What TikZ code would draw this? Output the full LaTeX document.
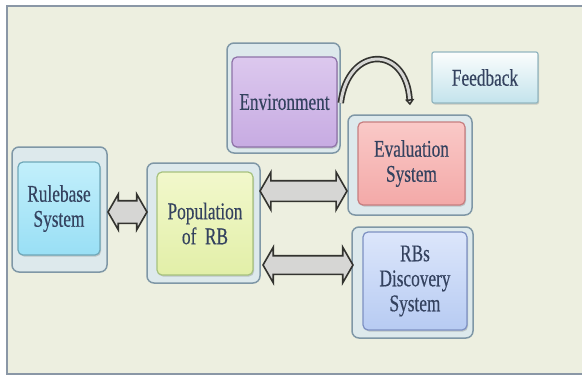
\documentclass[tikz,border=0pt]{standalone}
\usepackage{fontspec}
\newfontfamily\boxfont[FakeStretch=0.72, FakeBold=0.4]{Liberation Serif}
\usetikzlibrary{shapes.arrows,shadows,calc,arrows.meta}

\definecolor{pagebg}{HTML}{EDEFE0}
\definecolor{framegray}{HTML}{8A97A6}
\definecolor{outerfill}{HTML}{DDE9EC}
\definecolor{outerline}{HTML}{7F97A6}
\definecolor{textblue}{HTML}{34425F}
\definecolor{rbtop}{HTML}{C2EFFB}
\definecolor{rbbot}{HTML}{99DFF5}
\definecolor{rbline}{HTML}{6FA7B8}
\definecolor{poptop}{HTML}{F2F8CC}
\definecolor{popbot}{HTML}{E2EFA8}
\definecolor{popline}{HTML}{A7C27E}
\definecolor{envtop}{HTML}{DCC8EE}
\definecolor{envbot}{HTML}{C7ABE2}
\definecolor{envline}{HTML}{8E72A8}
\definecolor{evtop}{HTML}{FAC9C7}
\definecolor{evbot}{HTML}{F3A9A8}
\definecolor{evline}{HTML}{C77E80}
\definecolor{dstop}{HTML}{DCE6FB}
\definecolor{dsbot}{HTML}{B7CBF2}
\definecolor{dsline}{HTML}{7D90C2}
\definecolor{fbtop}{HTML}{FBFDFD}
\definecolor{fbbot}{HTML}{C3E3EC}
\definecolor{fbline}{HTML}{93B6C0}
\definecolor{arrowfill}{HTML}{D6D6D4}
\definecolor{arrowline}{HTML}{33332F}

\begin{document}
\begin{tikzpicture}[x=1pt, y=-1pt,
    boxtext/.style={font=\boxfont\fontsize{24}{25}\selectfont, text=textblue, align=center},
    outerbox/.style={draw=outerline, fill=outerfill, line width=1.5pt, rounded corners=7pt},
    innerbox/.style={boxtext, draw=#1line, top color=#1top, bottom color=#1bot,
        line width=1.2pt, rounded corners=5pt, inner sep=0pt,
        drop shadow={shadow xshift=1pt, shadow yshift=-1.5pt, opacity=0.35}},
    blockarrow/.style={double arrow, draw=arrowline, fill=arrowfill, line width=1.6pt,
        inner xsep=0pt, double arrow tip angle=120},
    curvearrow/.style={draw=arrowline, line width=1.7pt, double=arrowfill, double distance=3pt,
        -{Triangle[length=6pt, width=9pt, open, fill=arrowfill]}}]
    \useasboundingbox (0,0) rectangle (582,378);
    \fill[white] (0,0) rectangle (582,378);
    
    % Background panel
    \fill[pagebg] (7,6) rectangle (590,374);
    \draw[framegray, line width=2pt] (590,6) -- (7,6) -- (7,374) -- (590,374);
    
    % Outer frames
    \node[outerbox, minimum width=95pt, minimum height=125pt] (rbOut) at (59.5,209.5) {};
    \node[outerbox, minimum width=113pt, minimum height=120pt] (popOut) at (203.5,223) {};
    \node[outerbox, minimum width=113pt, minimum height=110pt] (envOut) at (283.5,98) {};
    \node[outerbox, minimum width=124pt, minimum height=100pt] (evalOut) at (410,165) {};
    \node[outerbox, minimum width=121pt, minimum height=111pt] (rbsOut) at (412.5,282.5) {};
    
    % Inner boxes
    \node[innerbox=rb, minimum width=82pt, minimum height=93pt] (rb) at (59,208.5) {Rulebase\\System};
    \node[innerbox=pop, minimum width=96pt, minimum height=103pt] (pop) at (205,223.5) {Population\\of~~RB};
    \node[innerbox=env, minimum width=105pt, minimum height=90pt] (env) at (284.5,102) {Environment};
    \node[innerbox=ev, minimum width=107pt, minimum height=83pt] (eval) at (411.5,163.5) {Evaluation\\System};
    \node[innerbox=ds, minimum width=104pt, minimum height=98pt] (rbs) at (415,281) {RBs\\Discovery\\System};
    \node[innerbox=fb, rounded corners=2pt, minimum width=106pt, minimum height=51pt] (fb) at (485,77.5) {Feedback};
    
    % Block arrows
    \node[blockarrow, minimum height=39pt, inner ysep=10.5pt, double arrow head extend=6.5pt] (a1) at (127.5,212) {};
    \node[blockarrow, minimum height=87pt, inner ysep=9.5pt, double arrow head extend=8.5pt] (a2) at (303.5,191) {};
    \node[blockarrow, minimum height=90pt, inner ysep=8.5pt, double arrow head extend=8.5pt] (a3) at (308,265) {};
    
    % Environment to evaluation
    \draw[curvearrow] ([yshift=-5pt]envOut.east) .. controls (348,45) and (406,45) .. ([yshift=9pt]evalOut.north);
\end{tikzpicture}
\end{document}
